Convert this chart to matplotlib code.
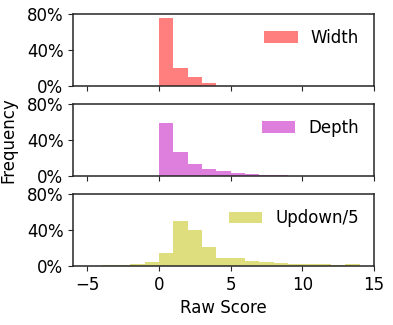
import numpy as np
import matplotlib
matplotlib.use("Agg")
import matplotlib.pyplot as plt
from matplotlib.ticker import PercentFormatter

# bin edges (unit-width bins) and per-bin frequencies
width_edges = [0, 1, 2, 3, 4]
width_freq = [0.76, 0.20, 0.09, 0.03]

depth_edges = [0, 1, 2, 3, 4, 5, 6, 7, 8, 9]
depth_freq = [0.59, 0.265, 0.133, 0.08, 0.052, 0.033, 0.02, 0.012, 0.008]

updown_edges = [-4, -3, -2, -1, 0, 1, 2, 3, 4, 5, 6, 7, 8, 9, 10, 11, 12, 13, 14]
updown_freq = [0.004, 0.008, 0.02, 0.047, 0.148, 0.507, 0.40, 0.211, 0.089, 0.089,
               0.059, 0.041, 0.031, 0.022, 0.02, 0.02, 0.008, 0.022]

series = [
    ("Width", width_edges, width_freq, "r"),
    ("Depth", depth_edges, depth_freq, "m"),
    ("Updown/5", updown_edges, updown_freq, "y"),
]

plt.rcParams["font.size"] = 12
plt.rcParams["axes.edgecolor"] = "#262626"
plt.rcParams["axes.linewidth"] = 1.1
plt.rcParams["xtick.color"] = "#262626"
plt.rcParams["ytick.color"] = "#262626"
plt.rcParams["xtick.labelcolor"] = "black"
plt.rcParams["ytick.labelcolor"] = "black"

fig, axes = plt.subplots(3, 1, sharex=True, figsize=(3.93, 3.25), dpi=100)
fig.subplots_adjust(left=0.186, right=0.952, bottom=0.182, top=0.957, hspace=0.26)

for ax, (name, edges, freq, color) in zip(axes, series):
    edges = np.array(edges, dtype=float)
    ax.hist(edges[:-1], bins=edges, weights=freq, color=color, alpha=0.5,
            label=name)
    ax.set_ylim(0, 0.8)
    ax.set_yticks([0, 0.4, 0.8])
    ax.yaxis.set_major_formatter(PercentFormatter(1.0, decimals=0))
    ax.legend(loc="upper right", frameon=False, fontsize=12)

axes[-1].set_xlim(-6, 15)
axes[-1].set_xticks([-5, 0, 5, 10, 15])
axes[-1].set_xlabel("Raw Score", fontsize=12)
fig.text(0.022, 0.57, "Frequency", rotation=90, va="center", ha="center", fontsize=12)

plt.savefig("out.png")
